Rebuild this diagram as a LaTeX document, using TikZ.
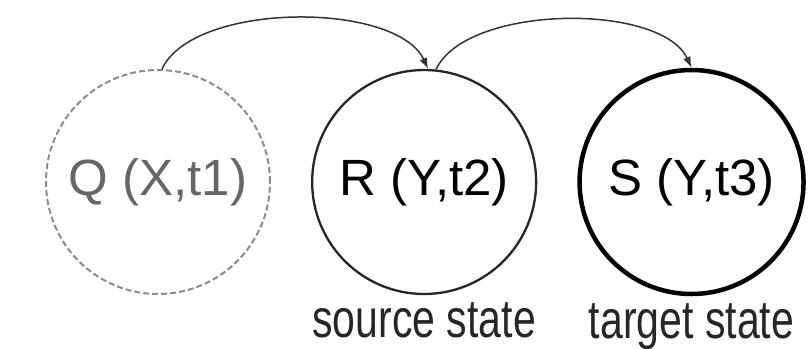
\documentclass[tikz,border=0pt]{standalone}
\usepackage{fontspec}
\setmainfont{Liberation Sans}
\newfontfamily\captionfont[FakeStretch=0.76]{Liberation Sans}
\usetikzlibrary{arrows.meta,positioning}
\tikzset{
  state/.style={circle, draw=black!85, line width=2.3pt, minimum size=224pt,
    inner sep=0pt, font=\fontsize{51}{60}\selectfont},
  ghost/.style={draw=black!45, text=black!60, line width=2pt, dash pattern=on 6pt off 3pt},
  goal/.style={draw=black, line width=4.5pt},
  caption/.style={anchor=base, inner sep=0pt, text=black!85, font=\captionfont\fontsize{54}{60}\selectfont},
  link/.style={-{Latex[length=11pt,width=8pt]}, draw=black!80, line width=1.5pt},
}

\begin{document}
\begin{tikzpicture}[x=1pt, y=1pt, node distance=40pt]
    \useasboundingbox (0,0) rectangle (810,-348);
    \node[state, ghost] (Q) at (158,-182) {Q (X,t1)};
    \node[state, right=of Q] (R) {R (Y,t2)};
    \node[state, goal, right=of R] (S) {S (Y,t3)};
    \node[caption] (srclbl) at ([yshift=-42pt]R.south) {source state};
    \node[caption] (tgtlbl) at ([yshift=-42pt]S.south) {target state};
    \draw[link] (Q.88) to[out=65, in=115, looseness=0.72] (R.88);
    \draw[link] (R.84) to[out=65, in=115, looseness=0.72] (S.north);
  \end{tikzpicture}
\end{document}
